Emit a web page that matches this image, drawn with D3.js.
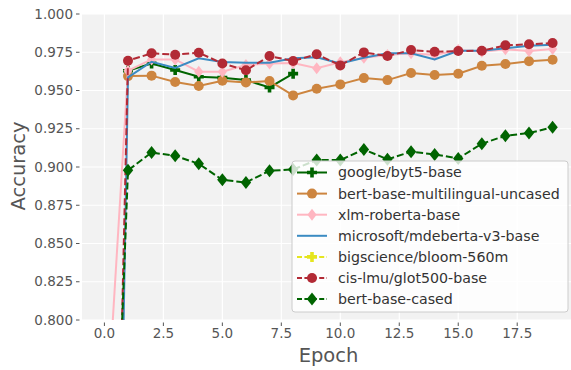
<!DOCTYPE html>
<html>
<head>
    <meta charset="utf-8">
    <title>Accuracy per epoch</title>
    <script src="https://d3js.org/d3.v7.min.js"></script>
    <style>
        body { margin: 0; background: #fff; }
        text { font-family: "DejaVu Sans", sans-serif; }
        .tick-label { fill: #555; font-size: 13.5px; }
        .axis-title { fill: #555; font-size: 19.5px; }
        .legend-text { fill: #333; font-size: 14.2px; }
    </style>
</head>
<body>
    <div id="chart"></div>

    <script>
        // epochs and accuracy per model (null = no point)
        const epochs = [0, 1, 2, 3, 4, 5, 6, 7, 8, 9, 10, 11, 12, 13, 14, 15, 16, 17, 18, 19];

        const byt5 = [null, 0.9629, 0.9677, 0.9634, 0.9590, 0.9584, 0.9568, 0.9520, 0.9610,
            null, null, null, null, null, null, null, null, null, null, null];
        const bertMulti = [null, 0.9594, 0.9597, 0.9555, 0.9529, 0.9564, 0.9553, 0.9562, 0.9468, 0.9511,
            0.9540, 0.9581, 0.9568, 0.9614, 0.9601, 0.9610, 0.9662, 0.9673, 0.9691, 0.9701];
        const xlmRoberta = [0.71, 0.9629, 0.9703, 0.9703, 0.9623, 0.9623, 0.9666, 0.9677, 0.9680, 0.9646,
            0.9684, 0.9714, 0.9732, 0.9743, 0.9732, 0.9765, 0.9753, 0.9769, 0.9758, 0.9771];
        const mdeberta = [0.10, 0.9586, 0.9688, 0.9647, 0.9710, 0.9686, 0.9682, 0.9682, 0.9710, 0.9717,
            0.9677, 0.9714, 0.9743, 0.9743, 0.9703, 0.9760, 0.9760, 0.9776, 0.9793, 0.9799];
        const bloom = [];  // not visible inside the plotted range
        const glot500 = [0.30, 0.9695, 0.9743, 0.9734, 0.9747, 0.9677, 0.9632, 0.9725, 0.9693, 0.9737,
            0.9664, 0.9749, 0.9725, 0.9765, 0.9753, 0.9758, 0.9760, 0.9795, 0.9802, 0.9810];
        const bertCased = [0.50, 0.8978, 0.9095, 0.9073, 0.9021, 0.8916, 0.8899, 0.8975, 0.8984, 0.9045,
            0.9045, 0.9115, 0.9050, 0.9100, 0.9082, 0.9056, 0.9152, 0.9204, 0.9222, 0.9259];

        const xTicks = [0, 2.5, 5, 7.5, 10, 12.5, 15, 17.5];
        const yTicks = [0.800, 0.825, 0.850, 0.875, 0.900, 0.925, 0.950, 0.975, 1.000];

        const series = [
            {name: "google/byt5-base", values: byt5, color: "#006400", dash: null, marker: "plus"},
            {name: "bert-base-multilingual-uncased", values: bertMulti, color: "#cd853f", dash: null, marker: "circle"},
            {name: "xlm-roberta-base", values: xlmRoberta, color: "#ffb6c1", dash: null, marker: "diamondSmall"},
            {name: "microsoft/mdeberta-v3-base", values: mdeberta, color: "#3b8bc2", dash: null, marker: null},
            {name: "bigscience/bloom-560m", values: bloom, color: "#e5e51f", dash: "7,3", marker: "plus"},
            {name: "cis-lmu/glot500-base", values: glot500, color: "#b22a35", dash: "7,3", marker: "circle"},
            {name: "bert-base-cased", values: bertCased, color: "#006400", dash: "7,3", marker: "diamond"}
        ];

        const W = 571, H = 370;
        const margin = {left: 82, top: 14, bottom: 50};
        const plotW = 493;
        const plotH = H - margin.top - margin.bottom;

        const svg = d3.select("#chart").append("svg")
            .attr("width", W)
            .attr("height", H);

        const x = d3.scaleLinear().domain([-0.95, 19.95]).range([margin.left, margin.left + plotW]);
        const y = d3.scaleLinear().domain([0.8, 1.0]).range([margin.top + plotH, margin.top]);

        // background + grid
        svg.append("rect")
            .attr("x", margin.left).attr("y", margin.top)
            .attr("width", plotW).attr("height", plotH)
            .attr("fill", "#f2f2f2");

        svg.append("g").selectAll("line")
            .data(xTicks)
            .enter().append("line")
            .attr("x1", d => x(d)).attr("x2", d => x(d))
            .attr("y1", margin.top).attr("y2", margin.top + plotH)
            .attr("stroke", "#fff").attr("stroke-width", 1.2);

        svg.append("g").selectAll("line")
            .data(yTicks)
            .enter().append("line")
            .attr("x1", margin.left).attr("x2", margin.left + plotW)
            .attr("y1", d => y(d)).attr("y2", d => y(d))
            .attr("stroke", "#fff").attr("stroke-width", 1.2);

        // ticks + labels
        const yAxis = svg.append("g");
        yAxis.selectAll("line")
            .data(yTicks)
            .enter().append("line")
            .attr("x1", margin.left - 6).attr("x2", margin.left - 2.5)
            .attr("y1", d => y(d)).attr("y2", d => y(d))
            .attr("stroke", "#555").attr("stroke-width", 1);
        yAxis.selectAll("text")
            .data(yTicks)
            .enter().append("text")
            .attr("class", "tick-label")
            .attr("x", margin.left - 9)
            .attr("y", d => y(d))
            .attr("dy", "0.35em")
            .attr("text-anchor", "end")
            .text(d => d3.format(".3f")(d));

        const xAxis = svg.append("g");
        xAxis.selectAll("line")
            .data(xTicks)
            .enter().append("line")
            .attr("x1", d => x(d)).attr("x2", d => x(d))
            .attr("y1", margin.top + plotH + 2.5).attr("y2", margin.top + plotH + 6)
            .attr("stroke", "#555").attr("stroke-width", 1);
        xAxis.selectAll("text")
            .data(xTicks)
            .enter().append("text")
            .attr("class", "tick-label")
            .attr("x", d => x(d))
            .attr("y", margin.top + plotH + 17.5)
            .attr("text-anchor", "middle")
            .text(d => d3.format(".1f")(d));

        svg.append("text")
            .attr("class", "axis-title")
            .attr("x", x(9.5))
            .attr("y", 362)
            .attr("text-anchor", "middle")
            .text("Epoch");

        svg.append("text")
            .attr("class", "axis-title")
            .attr("transform", `translate(24.5,166) rotate(-90)`)
            .attr("text-anchor", "middle")
            .text("Accuracy");

        // marker shapes
        function drawMarker(g, type, color) {
            if (type === "circle") {
                g.append("circle").attr("r", 5).attr("fill", color);
            } else if (type === "diamond") {
                g.append("path").attr("d", "M0,-6.5L5.2,0L0,6.5L-5.2,0Z").attr("fill", color);
            } else if (type === "diamondSmall") {
                g.append("path").attr("d", "M0,-6L4.6,0L0,6L-4.6,0Z").attr("fill", color);
            } else if (type === "plus") {
                const a = 1.8, b = 5;
                g.append("path")
                    .attr("d", `M${-a},${-b}H${a}V${-a}H${b}V${a}H${a}V${b}H${-a}V${a}H${-b}V${-a}H${-a}Z`)
                    .attr("fill", color);
            }
        }

        // lines
        svg.append("clipPath").attr("id", "clip")
            .append("rect")
            .attr("x", margin.left).attr("y", margin.top)
            .attr("width", plotW).attr("height", plotH);

        const plot = svg.append("g").attr("clip-path", "url(#clip)");

        const line = d3.line()
            .defined(d => d.v !== null && d.v !== undefined)
            .x(d => x(d.e))
            .y(d => y(d.v));

        series.forEach(s => {
            const pts = epochs.map((e, i) => ({e: e, v: s.values[i]}));
            const g = plot.append("g");
            g.append("path")
                .attr("d", line(pts))
                .attr("fill", "none")
                .attr("stroke", s.color)
                .attr("stroke-width", 2)
                .attr("stroke-dasharray", s.dash);
            if (s.marker) {
                pts.filter(p => p.v !== null && p.v !== undefined && p.v >= 0.8).forEach(p => {
                    const m = g.append("g").attr("transform", `translate(${x(p.e)},${y(p.v)})`);
                    drawMarker(m, s.marker, s.color);
                });
            }
        });

        // legend
        const lg = svg.append("g").attr("transform", "translate(292,161)");
        lg.append("rect")
            .attr("width", 276).attr("height", 151)
            .attr("rx", 3)
            .attr("fill", "#fff").attr("fill-opacity", 0.8)
            .attr("stroke", "#ccc").attr("stroke-width", 1);

        series.forEach((s, i) => {
            const row = lg.append("g").attr("transform", `translate(0,${11.5 + i * 21.1})`);
            row.append("line")
                .attr("x1", 5).attr("x2", 35)
                .attr("stroke", s.color).attr("stroke-width", 2)
                .attr("stroke-dasharray", s.dash ? "5,2.4" : null);
            if (s.marker) {
                const m = row.append("g").attr("transform", "translate(20,0)");
                drawMarker(m, s.marker, s.color);
            }
            row.append("text")
                .attr("class", "legend-text")
                .attr("x", 46)
                .attr("dy", "0.35em")
                .text(s.name);
        });
    </script>
</body>
</html>
